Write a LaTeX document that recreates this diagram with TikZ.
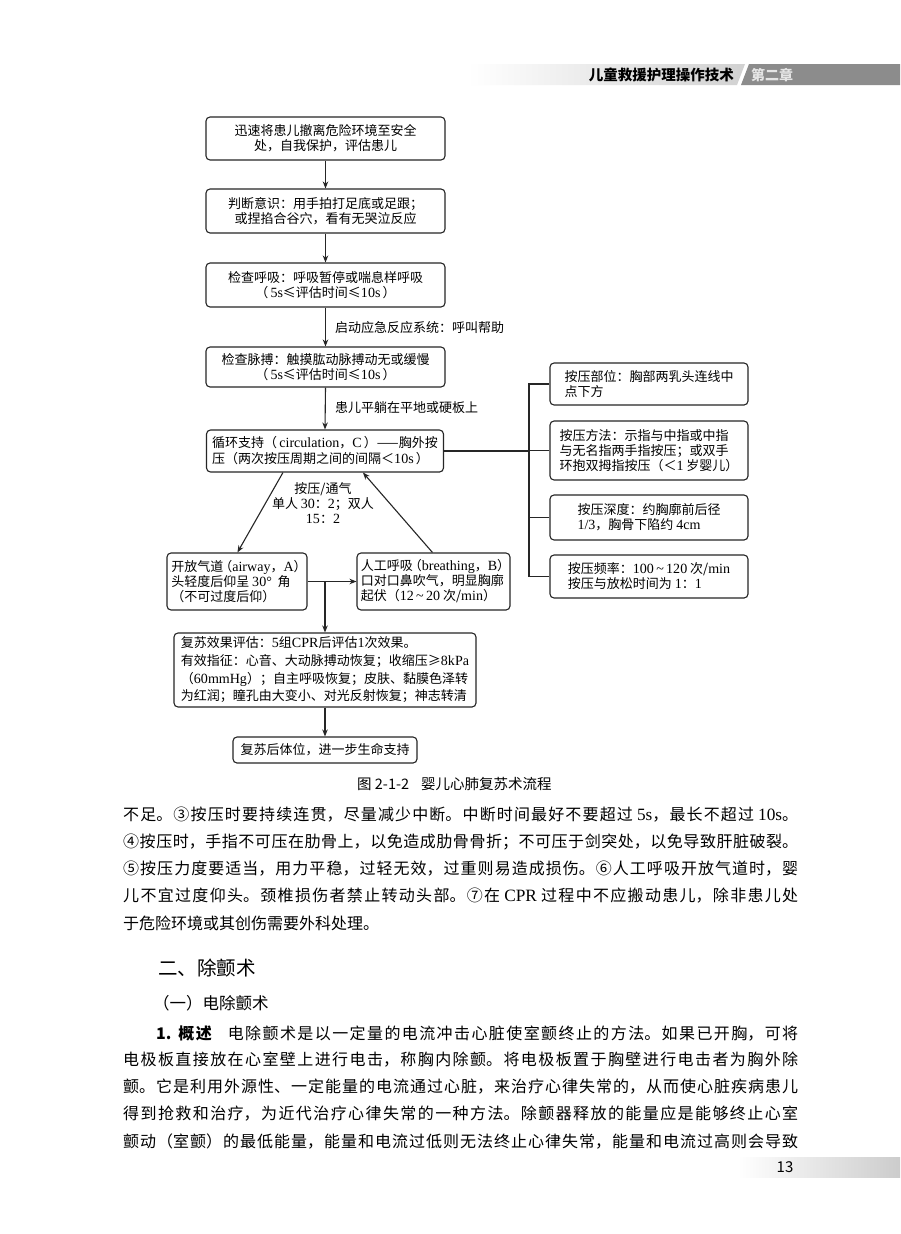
\documentclass[tikz,border=0pt]{standalone}
\usepackage{fontspec}
\setmainfont{Noto Sans CJK SC}
\newfontfamily\lat{Liberation Serif}[Scale=1.08]
\usetikzlibrary{arrows.meta,calc}
\newcommand\fs[2]{\fontsize{#1}{#2}\selectfont}
\newcommand\jline[2]{\parbox{#1}{\parindent=0pt\parfillskip=0pt\XeTeXlinebreaklocale "zh"\XeTeXlinebreakskip=0pt plus 4pt\relax #2}}
\newcommand\lp{\kern-4pt（}
\newcommand\rp{）\kern-4pt}
\tikzset{
  box/.style={draw=black!85, line width=1.1pt, rounded corners=4pt, inner xsep=2pt, inner ysep=1pt, font=\fs{13}{15}, text=black},
  bc/.style={box, align=center},
  bl/.style={box, align=left},
  arr/.style={-{Stealth[length=7pt,width=5.5pt]}, line width=1.1pt, draw=black!85},
  ln/.style={line width=1.1pt, draw=black!85},
  lbl/.style={font=\fs{13}{15}, inner sep=0pt},
  body/.style={font=\fs{16}{20}, inner sep=0pt, anchor=west}
}
\begin{document}
\begin{tikzpicture}[x=1pt,y=-1pt]
\useasboundingbox (0,0) rectangle (900,1234);
\fill[white] (0,0) rectangle (900,1234);

% header band
\shade[left color=white, right color=black!18] (468,64) -- (745,64) -- (737,85) -- (468,85) -- cycle;
\fill[black!45] (749,64) -- (900,64) -- (900,85) -- (741,85) -- cycle;
\node[anchor=east, font=\fs{14.5}{16}\bfseries, inner sep=0pt] (hd) at (734,75) {儿童救援护理操作技术};
\node[anchor=west, font=\fs{14}{16}\bfseries, text=white!90!black, inner sep=0pt] (ch) at (751,75) {第二章};

% main column
\node[bc, minimum width=239pt, minimum height=43pt] (b1) at (325.5,138.5) {迅速将患儿撤离危险环境至安全\\处，自我保护，评估患儿};
\node[bc, minimum width=239pt, minimum height=44pt] (b2) at (325.5,211) {判断意识：用手拍打足底或足跟；\\或捏掐合谷穴，看有无哭泣反应};
\node[bc, minimum width=239pt, minimum height=44pt] (b3) at (325.5,285) {检查呼吸：呼吸暂停或喘息样呼吸\\（\,{\lat 5s}≤评估时间≤{\lat 10s}\,）};
\node[bc, minimum width=239pt, minimum height=40pt] (b4) at (325.5,367) {检查脉搏：触摸肱动脉搏动无或缓慢\\（\,{\lat 5s}≤评估时间≤{\lat 10s}\,）};
\node[bl, minimum width=237pt, minimum height=42pt, font={\fs{13}{16}}] (b5) at (325,451) {循环支持（\,{\lat circulation}，{\lat C}\,）——胸外按\\压（两次按压周期之间的间隔＜{\lat 10s}\,）};

\draw[arr] (b1.south) -- (b2.north);
\draw[arr] (b2.south) -- (b3.north);
\draw[arr] (b3.south) -- (b4.north);
\draw[arr] (b4.south) -- (b5.north);
\node[lbl, anchor=west] (l1) at (335,328) {启动应急反应系统：呼叫帮助};
\node[lbl, anchor=west] (l2) at (335,408) {患儿平躺在平地或硬板上};

% right column
\node[bl, minimum width=198pt, minimum height=42pt] (r1) at (649,384) {按压部位：胸部两乳头连线中\\点下方};
\node[bl, minimum width=198pt, minimum height=59pt] (r2) at (649,450.5) {按压方法：示指与中指或中指\\与无名指两手指按压；或双手\\环抱双拇指按压（＜{\lat 1} 岁婴儿）};
\node[bl, minimum width=198pt, minimum height=45pt] (r3) at (649,517.5) {按压深度：约胸廓前后径\\{\lat 1/3}，胸骨下陷约 {\lat 4cm}};
\node[bl, minimum width=198pt, minimum height=43pt] (r4) at (649,576.5) {按压频率：{\lat 100\,\textasciitilde\,120} 次/{\lat min}\\按压与放松时间为 {\lat 1}：{\lat 1}};

\coordinate (brk) at (529,0);
\draw[ln] (b5.east) -- (b5.east -| brk);
\draw[ln] (r1.west) -- (r1.west -| brk) -- (r4.west -| brk) -- (r4.west);
\draw[ln] (r2.west) -- (r2.west -| brk);
\draw[ln] (r3.west) -- (r3.west -| brk);

% A / B
\node[bl, minimum width=140pt, minimum height=57pt] (aw) at (237,581.5) {开放气道\lp{\lat airway}，{\lat A}\rp\\头轻度后仰呈 {\lat 30°}\ \ 角\\（不可过度后仰）};
\node[bl, minimum width=153pt, minimum height=57pt] (br) at (433.5,581.5) {人工呼吸\lp{\lat breathing}，{\lat B}\rp\\口对口鼻吹气，明显胸廓\\起伏（{\lat 12\,\textasciitilde\,20} 次/{\lat min}）};
\node[lbl, align=center] (l3) at (323,503) {按压/通气\\单人 {\lat 30}：{\lat 2}；双人\\{\lat 15}：{\lat 2}};

\draw[arr] ([xshift=77pt]b5.south west) -- ([xshift=71pt]aw.north west);
\draw[arr] ([xshift=76pt]br.north west) -- ([xshift=157pt]b5.south west);

% evaluation
\node[bl, minimum width=302pt, minimum height=74pt, font={\fs{13}{17.7}}] (ev) at (325,670) {复苏效果评估：{\lat 5}组{\lat CPR}后评估{\lat 1}次效果。\\有效指征：心音、大动脉搏动恢复；收缩压≥{\lat 8kPa}\\（{\lat 60mmHg}）；自主呼吸恢复；皮肤、黏膜色泽转\\为红润；瞳孔由大变小、对光反射恢复；神志转清};
\node[bc, minimum width=184pt, minimum height=26pt] (fn) at (325,750) {复苏后体位，进一步生命支持};

\draw[arr] (aw.east) -- (br.west);
\draw[arr] (aw.east -| ev.north) -- (ev.north);
\draw[arr] (ev.south) -- (fn.north);

\node[anchor=west, font=\fs{14.5}{16}, inner sep=0pt] (cap) at (357,784) {图 2-1-2\hspace{12pt}婴儿心肺复苏术流程};

% body text
\node[body] (t1) at (123,815) {\jline{675pt}{不足。③按压时要持续连贯，尽量减少中断。中断时间最好不要超过 {\lat 5s}，最长不超过 {\lat 10s}。}};
\node[body] (t2) at (123,842) {\jline{675pt}{④按压时，手指不可压在肋骨上，以免造成肋骨骨折；不可压于剑突处，以免导致肝脏破裂。}};
\node[body] (t3) at (123,869) {\jline{675pt}{⑤按压力度要适当，用力平稳，过轻无效，过重则易造成损伤。⑥人工呼吸开放气道时，婴}};
\node[body] (t4) at (123,896) {\jline{675pt}{儿不宜过度仰头。颈椎损伤者禁止转动头部。⑦在 {\lat CPR} 过程中不应搬动患儿，除非患儿处}};
\node[body] (t5) at (123,923) {于危险环境或其创伤需要外科处理。};

\node[body, font=\fs{19.5}{22}] (h2) at (158,968) {二、除颤术};
\node[body, font=\fs{16.5}{19}] (h3) at (153,1003) {（一）电除颤术};

\node[body] (p1) at (156,1033) {\jline{642pt}{{\bfseries 1. 概述}\hspace{16pt}电除颤术是以一定量的电流冲击心脏使室颤终止的方法。如果已开胸，可将}};
\node[body] (p2) at (123,1060) {\jline{675pt}{电极板直接放在心室壁上进行电击，称胸内除颤。将电极板置于胸壁进行电击者为胸外除}};
\node[body] (p3) at (123,1087) {\jline{675pt}{颤。它是利用外源性、一定能量的电流通过心脏，来治疗心律失常的，从而使心脏疾病患儿}};
\node[body] (p4) at (123,1114) {\jline{675pt}{得到抢救和治疗，为近代治疗心律失常的一种方法。除颤器释放的能量应是能够终止心室}};
\node[body] (p5) at (123,1141) {\jline{675pt}{颤动（室颤）的最低能量，能量和电流过低则无法终止心律失常，能量和电流过高则会导致}};

% page number band
\shade[left color=white, right color=black!20] (738,1157) rectangle (900,1177);
\node[font=\fs{15}{17}, inner sep=0pt] (pg) at (785,1167) {13};
\end{tikzpicture}
\end{document}
